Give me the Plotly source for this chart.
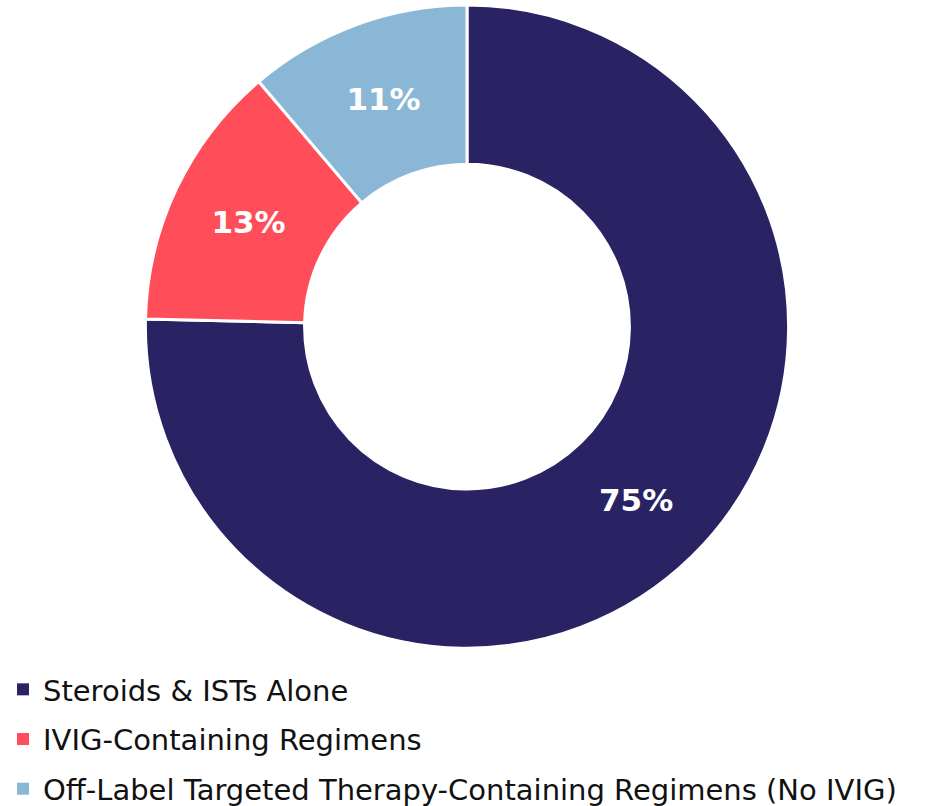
import plotly.graph_objects as go

labels = ["Steroids & ISTs Alone", "IVIG-Containing Regimens",
          "Off-Label Targeted Therapy-Containing Regimens (No IVIG)"]
values = [75.3, 13.4, 11.2]
colors = ["#292263", "#FF4D5A", "#8BB7D6"]

FONT = "DejaVu Sans"

fig = go.Figure()
fig.add_trace(go.Pie(
    labels=labels, values=values, sort=False, direction="clockwise", rotation=0,
    hole=0.505, domain=dict(x=[0, 1], y=[0.197, 1]),
    marker=dict(colors=colors, line=dict(color="white", width=3)),
    texttemplate="%{value:.0f}%", textposition="inside",
    insidetextorientation="horizontal",
    textfont=dict(family=FONT, size=31, color="white", weight="bold"),
    showlegend=False, hoverinfo="label+percent",
))
# legend entries (one group per category so rows are spaced like the original)
for i, (lab, col) in enumerate(zip(labels, colors)):
    fig.add_trace(go.Scatter(
        x=[None], y=[None], mode="markers", name=lab,
        marker=dict(symbol="square", size=12, color=col),
        legendgroup=f"g{i}", showlegend=True, hoverinfo="skip",
    ))

fig.update_layout(
    width=931, height=806,
    margin=dict(l=3, r=0, t=5, b=0, autoexpand=False),
    paper_bgcolor="white", plot_bgcolor="white",
    xaxis=dict(visible=False), yaxis=dict(visible=False),
    font=dict(family=FONT, color="#111111"),
    legend=dict(
        x=0, xanchor="left", y=0.1773, yanchor="top",
        orientation="v", traceorder="grouped", tracegroupgap=9,
        font=dict(family=FONT, size=29, color="#111111"),
        bgcolor="rgba(0,0,0,0)",
    ),
)
fig.write_html("out.html")
